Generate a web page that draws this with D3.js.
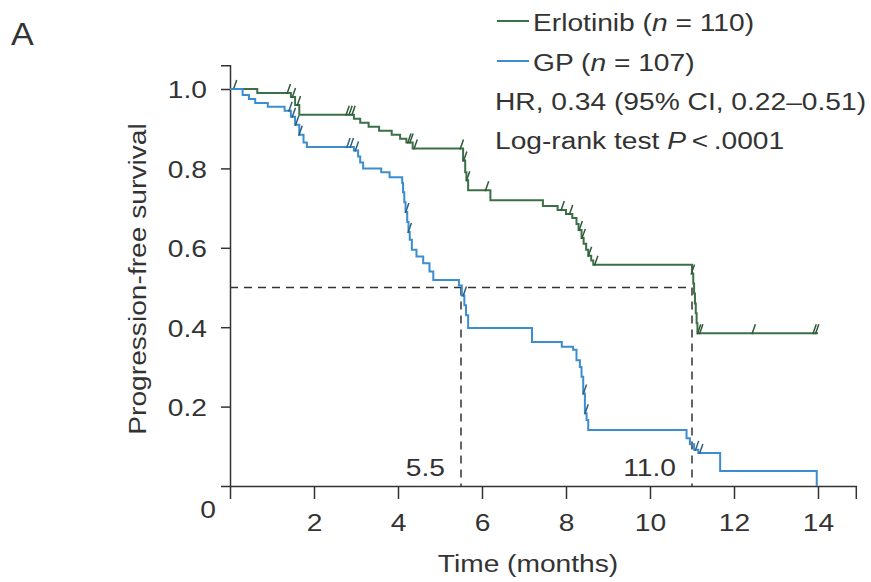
<!DOCTYPE html>
<html>
<head>
<meta charset="utf-8">
<script src="https://cdn.jsdelivr.net/npm/d3@7"></script>
<style>
  body { margin: 0; background: #fff; }
  text { font-family: "Liberation Sans", Arial, sans-serif; fill: #333; }
</style>
</head>
<body>
<div id="chart"></div>
<script>
// Kaplan-Meier steps: [time (months), survival after the event]
const erlotinibSteps = [
  [0.65, 0.99], [1.45, 0.98], [1.55, 0.96], [1.65, 0.935],
  [2.95, 0.925], [3.1, 0.915], [3.3, 0.905], [3.55, 0.895], [3.85, 0.885],
  [4.05, 0.875], [4.2, 0.865], [4.35, 0.85],
  [5.55, 0.82], [5.6, 0.79], [5.63, 0.77], [5.67, 0.745], [6.2, 0.72],
  [7.45, 0.705], [7.8, 0.695], [8.0, 0.685], [8.15, 0.675], [8.25, 0.66],
  [8.3, 0.645], [8.37, 0.625], [8.42, 0.61], [8.48, 0.595], [8.53, 0.58],
  [8.6, 0.568], [8.65, 0.557],
  [11.0, 0.535], [11.03, 0.51], [11.05, 0.485], [11.07, 0.46], [11.09, 0.435],
  [11.11, 0.41], [11.13, 0.385]
];
const erlotinibEnd = 14.0;
const erlotinibCensor = [0.1, 1.38, 1.5, 1.62, 2.78, 2.85, 2.92, 4.25, 4.3, 4.4, 5.5,
  5.58, 5.65, 6.1, 7.9, 8.1, 8.33, 8.4, 8.55, 8.7, 11.0, 11.15, 11.2, 12.45, 13.9, 13.96];

const gpSteps = [
  [0.3, 0.985], [0.45, 0.975], [0.6, 0.965], [0.9, 0.955], [1.3, 0.945],
  [1.45, 0.93], [1.55, 0.91], [1.65, 0.885], [1.75, 0.865], [1.83, 0.854],
  [2.95, 0.845], [3.05, 0.83], [3.1, 0.815], [3.17, 0.80], [3.6, 0.79],
  [3.8, 0.778], [4.1, 0.763], [4.12, 0.74], [4.15, 0.715], [4.18, 0.69],
  [4.22, 0.665], [4.25, 0.64], [4.28, 0.62], [4.33, 0.595], [4.44, 0.578],
  [4.6, 0.561], [4.75, 0.54], [4.84, 0.519],
  [5.45, 0.505], [5.52, 0.48], [5.58, 0.455], [5.62, 0.43], [5.67, 0.398],
  [7.19, 0.363], [7.9, 0.351], [8.17, 0.343], [8.25, 0.317], [8.33, 0.30],
  [8.37, 0.275], [8.41, 0.233], [8.45, 0.183], [8.49, 0.166], [8.53, 0.141],
  [10.87, 0.12], [10.95, 0.105], [11.05, 0.091], [11.15, 0.083],
  [11.67, 0.038], [13.97, 0.0]
];
const gpEnd = 13.97;
const gpCensor = [1.42, 1.5, 1.58, 1.66, 2.8, 2.88, 3.0, 4.2, 4.26, 5.57, 8.43, 8.47, 11.1, 11.2];

const xTicks = [2, 4, 6, 8, 10, 12, 14];
const yTicks = [0.2, 0.4, 0.6, 0.8, 1.0];
const medians = [5.5, 11.0];
const medianLabels = ["5.5", "11.0"];

const legendItems = [
  { label: "Erlotinib (", n: "n", rest: " = 110)", color: "#3c6f47" },
  { label: "GP (", n: "n", rest: " = 107)", color: "#3b8dcf" }
];

const width = 871, height = 582;
const fs = "24.5px";
const stretch = "scale(1.15,1)";

const svg = d3.select("#chart").append("svg")
  .attr("width", width)
  .attr("height", height);

const x = d3.scaleLinear().domain([0, 14.9]).range([230, 230 + 42 * 14.9]);
const y = d3.scaleLinear().domain([0, 1.06]).range([486, 486 - 397 * 1.06]);

function label(px, py, txt, anchor, rot) {
  return svg.append("text")
    .attr("transform", `translate(${px},${py})${rot ? " rotate(" + rot + ")" : ""} ${stretch}`)
    .attr("text-anchor", anchor || "start")
    .style("font-size", fs)
    .text(txt);
}

// axes
const xAxis = svg.append("g")
  .attr("transform", `translate(0,${y(0)})`)
  .call(d3.axisBottom(x).tickValues(xTicks).tickSize(13).tickPadding(15).tickFormat(d3.format("d")));
const yAxis = svg.append("g")
  .attr("transform", `translate(${x(0)},0)`)
  .call(d3.axisLeft(y).tickValues(yTicks).tickSize(9).tickPadding(11).tickFormat(d3.format(".1f")));

[xAxis, yAxis].forEach(a => {
  a.select(".domain").attr("stroke", "#333").attr("stroke-width", 1.5);
  a.selectAll(".tick line").attr("stroke", "#333").attr("stroke-width", 1.5);
  a.selectAll(".tick text").style("font-size", fs).attr("fill", "#333").attr("transform", stretch);
});
yAxis.selectAll(".tick text").attr("dy", "0.36em");

label(208, 518, "0", "middle");
label(528, 572, "Time (months)", "middle");
label(146, 279, "Progression-free survival", "middle", -90);

svg.append("text").attr("transform", "translate(11,45) scale(1.1,1)")
  .style("font-size", "31px").text("A");

// median dashed lines
const dash = "8,6";
svg.append("line")
  .attr("x1", x(0)).attr("x2", x(medians[1]))
  .attr("y1", y(0.5)).attr("y2", y(0.5))
  .attr("stroke", "#333").attr("stroke-width", 1.5).attr("stroke-dasharray", dash);
svg.selectAll("line.median").data(medians).enter().append("line")
  .attr("class", "median")
  .attr("x1", d => x(d)).attr("x2", d => x(d))
  .attr("y1", y(0.5)).attr("y2", y(0))
  .attr("stroke", "#333").attr("stroke-width", 1.5).attr("stroke-dasharray", dash);
medians.forEach((d, i) => label(x(d) - 16, y(0) - 10, medianLabels[i], "end"));

// curves
const line = d3.line().x(d => x(d[0])).y(d => y(d[1])).curve(d3.curveStepAfter);

function survAt(steps, t) {
  let s = 1;
  steps.forEach(d => { if (d[0] <= t) s = d[1]; });
  return s;
}

function drawCurve(steps, end, censor, color, tickColor) {
  const pts = [[0, 1]].concat(steps);
  const last = pts[pts.length - 1];
  if (last[0] < end) pts.push([end, last[1]]);
  svg.append("path").datum(pts)
    .attr("d", line)
    .attr("fill", "none")
    .attr("stroke", color)
    .attr("stroke-width", 2);
  svg.selectAll(null).data(censor).enter().append("line")
    .attr("x1", d => x(d) - 1).attr("x2", d => x(d) + 2.5)
    .attr("y1", d => y(survAt(steps, d)) + 1)
    .attr("y2", d => y(survAt(steps, d)) - 9)
    .attr("stroke", tickColor)
    .attr("stroke-width", 1.5);
}

drawCurve(erlotinibSteps, erlotinibEnd, erlotinibCensor, legendItems[0].color, "#2f5a38");
drawCurve(gpSteps, gpEnd, gpCensor, legendItems[1].color, "#2f5f80");

// legend
const leg = svg.selectAll("g.leg").data(legendItems).enter().append("g")
  .attr("class", "leg")
  .attr("transform", (d, i) => `translate(497,${21 + i * 40})`);
leg.append("line").attr("x1", 0).attr("x2", 32).attr("y1", 0).attr("y2", 0)
  .attr("stroke", d => d.color).attr("stroke-width", 2);
const lt = leg.append("text").attr("transform", `translate(36,10) ${stretch}`).style("font-size", fs);
lt.append("tspan").text(d => d.label);
lt.append("tspan").style("font-style", "italic").text(d => d.n);
lt.append("tspan").text(d => d.rest);

label(495, 110, "HR, 0.34 (95% CI, 0.22\u20130.51)");
const lr = label(495, 149, "");
lr.append("tspan").text("Log-rank test ");
lr.append("tspan").style("font-style", "italic").text("P");
lr.append("tspan").text("\u2009<\u2009.0001");
</script>
</body>
</html>
